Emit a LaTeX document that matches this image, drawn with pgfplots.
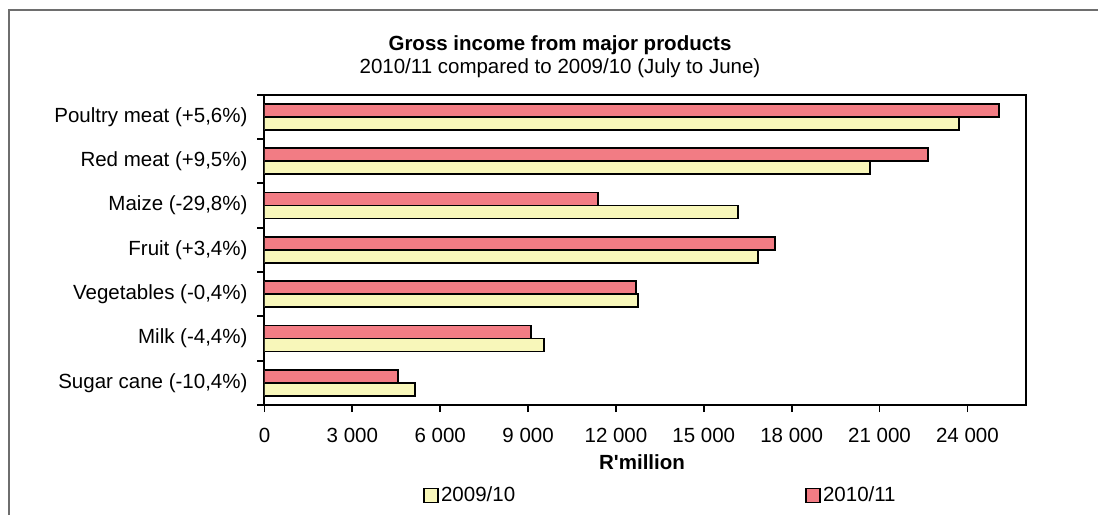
\documentclass[border=0pt]{standalone}
\usepackage{fontspec}
\setmainfont{Liberation Sans}
\newfontfamily\plainsans{Liberation Sans}
\usepackage{pgfplots}
\pgfplotsset{compat=1.18}
\definecolor{barred}{RGB}{242,124,132}
\definecolor{baryel}{RGB}{248,247,186}
\definecolor{framegray}{RGB}{110,110,110}
\newcommand{\fs}{\fontsize{20.5}{24}\selectfont}
\begin{document}
\fs
\begin{tikzpicture}[x=1pt,y=1pt]
\useasboundingbox (0,0) rectangle (1098,515);
\fill[white] (0,0) rectangle (1098,515);
\draw[framegray, line width=1.5pt] (9,0) -- (9,505) -- (1098,505);
\node[font=\fs\bfseries, anchor=base, inner sep=0pt] at (560,464) {Gross income from major products};
\node[font=\fs, anchor=base, inner sep=0pt] at (560,441.7) {2010/11 compared to 2009/10 (July to June)};
\begin{axis}[
 at={(264.5pt,110pt)}, anchor=south west,
 scale only axis, width=761.5pt, height=310.3pt,
 xmin=0, xmax=26000, ymin=-0.5, ymax=6.5,
 axis line style={line width=2pt},
 scaled x ticks=false,
 xtick={0,3000,6000,9000,12000,15000,18000,21000,24000},
 xticklabels={0,3 000,6 000,9 000,12 000,15 000,18 000,21 000,24 000},
 xticklabel style={yshift=-9pt},
 ytick={-0.5,0.5,1.5,2.5,3.5,4.5,5.5,6.5},
 yticklabels={,,,,,,,},
 extra y ticks={0,1,2,3,4,5,6},
 extra y tick labels={{Sugar cane (-10,4\%)},{Milk (-4,4\%)},{Vegetables (-0,4\%)},{Fruit (+3,4\%)},{Maize (-29,8\%)},{Red meat (+9,5\%)},{Poultry meat (+5,6\%)}},
 extra y tick style={major tick length=0pt, yticklabel style={xshift=-10pt}},
 tick align=outside, major tick length=7pt,
 tick style={line width=1.8pt, black},
 xtick pos=bottom, ytick pos=left,
 every tick label/.append style={font=\fs},
 xlabel={\plainsans\bfseries R'million},
 xlabel style={font=\fs, anchor=base, at={(axis description cs:0.4958,-0.2063)}},
 legend columns=2,
 legend style={draw=none, fill=none, font=\fs,
   at={(axis description cs:0.2081,-0.2917)}, anchor=west, inner sep=0pt,
   /tikz/every even column/.append style={column sep=288pt}},
]
\addplot[xbar, bar width=13pt, bar shift=-6.5pt, fill=baryel, draw=black, line width=1.9pt,
  legend image code/.code={\draw[fill=baryel, draw=black, line width=1.9pt] (0pt,-7pt) rectangle (14pt,7pt);}]
  coordinates {(5133,0) (9536,1) (12766,2) (16845,3) (16182,4) (20670,5) (23712,6)};
\addplot[xbar, bar width=13pt, bar shift=6.5pt, fill=barred, draw=black, line width=1.9pt,
  legend image code/.code={\draw[fill=barred, draw=black, line width=1.9pt] (0pt,-7pt) rectangle (14pt,7pt);}]
  coordinates {(4572,0) (9111,1) (12698,2) (17440,3) (11372,4) (22641,5) (25072,6)};
\legend{2009/10,2010/11}
\end{axis}
\end{tikzpicture}
\end{document}
